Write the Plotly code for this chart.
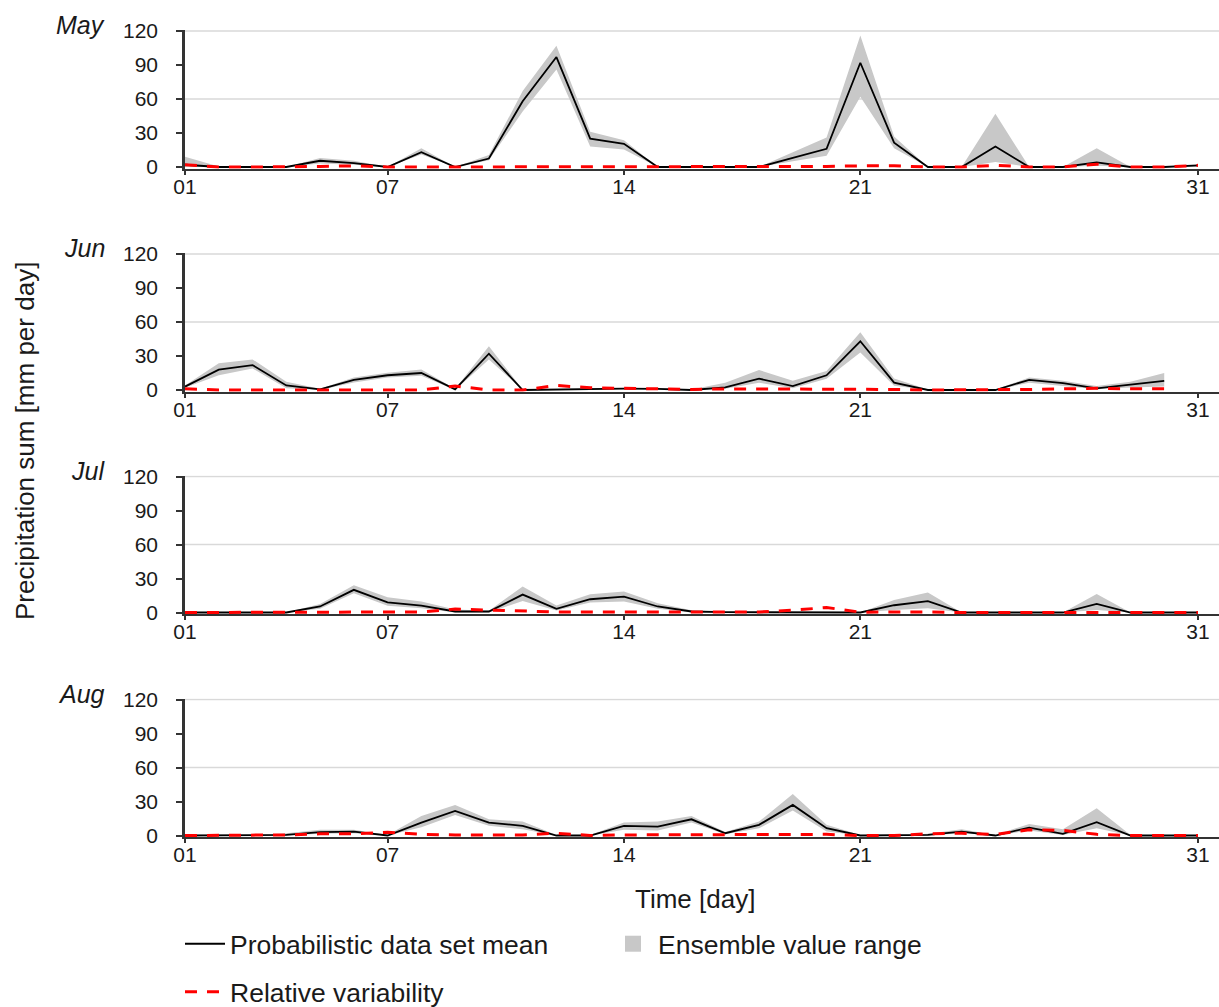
import plotly.graph_objects as go

# ---------------- data (daily precipitation sums, mm per day) ----------------
days = list(range(1, 32))
tick_days = [1, 7, 14, 21, 31]
tick_text = ["01", "07", "14", "21", "31"]
month_names = ["May", "Jun", "Jul", "Aug"]

may_mean = [2, 0, 0, 0, 5.5, 3.5, 0, 13, 0, 7.5, 58, 97, 25, 20.5, 0, 0, 0, 0, 8, 16, 92, 21.5, 0, 0, 18, 0, 0, 4, 0, 0, 1.5]
may_low = [0, 0, 0, 0, 3, 2, 0, 11, 0, 6, 49, 86, 18, 15.5, 0, 0, 0, 0, 5, 10, 62, 16.5, 0, 0, 4.5, 0, 0, 1, 0, 0, 0]
may_high = [9, 0.5, 0, 0, 8, 5.5, 0, 16.5, 0, 10.5, 67, 107, 31, 23.5, 0, 0, 0, 0, 13, 26, 116, 27, 0, 0, 47, 0, 0, 16.5, 0, 0, 2]
may_relvar = [2, 0, 0, 0, 0.5, 1, 0, 0, 0, 0, 0, 0, 0, 0, 0, 0, 0, 0, 0, 0.5, 1, 1, 0, 0, 1.5, 0, 0, 2.5, 0, 0, 1.5]

jun_mean = [3, 18, 22, 4, 0.5, 9, 13, 15, 0.5, 32, 0, 0.5, 1, 1.2, 1, 0, 2.3, 10, 3.5, 13, 43, 6.5, 0, 0, 0, 9, 6, 1.5, 4.5, 8]
jun_low = [2, 13, 19, 1.5, 0, 6.7, 11, 12.6, 0, 27, 0, 0, 0.5, 0.8, 0.5, 0, 1, 6.4, 1.5, 10, 33, 3.8, 0, 0, 0, 6.4, 3.5, 0.6, 2.3, 3]
jun_high = [4, 23.5, 27, 7.3, 1, 11, 15.2, 18, 1, 38.5, 0.5, 1, 1.5, 1.8, 1.5, 0.5, 6.4, 17.6, 8.2, 16.7, 51, 10.2, 0.5, 0, 0.5, 11, 8.2, 3.5, 7.3, 15]
jun_relvar = [1, 0, 0, 0, 0.5, 0, 0, 0, 3.5, 0, 0, 4, 2, 1.5, 1.5, 0.5, 1, 1, 1, 0.5, 0.5, 0.5, 0, 0, 0, 0.5, 1, 1.5, 1, 1]

jul_mean = [0, 0, 0, 0, 5.3, 20, 9, 6, 0.9, 0.9, 15.8, 3.2, 11.7, 14, 5.3, 0.9, 0.3, 0.3, 0.3, 0.3, 0, 6.4, 10, 0, 0, 0, 0, 7.6, 0, 0, 0]
jul_low = [0, 0, 0, 0, 3.2, 17, 6, 3.8, 0, 0, 10.2, 1.8, 8.8, 9.7, 3.2, 0, 0, 0, 0, 0, 0, 2.3, 3.8, 0, 0, 0, 0, 2.3, 0, 0, 0]
jul_high = [0, 0, 0, 0, 7.6, 24, 13.5, 9.7, 2.6, 1.5, 23, 6.1, 16, 18.5, 8.2, 2, 0.5, 0.5, 0.5, 0.5, 0, 11, 17.6, 0, 0, 0, 0, 16.4, 0, 0, 0]
jul_relvar = [0, 0, 0, 0, 0.5, 0.5, 0.5, 0.5, 3, 2, 1.5, 0.5, 0.5, 0.5, 0.5, 0.5, 0.5, 0.5, 2, 4.4, 0.3, 0.5, 0.5, 0, 0, 0, 0, 0.5, 0, 0, 0]

aug_mean = [0, 0, 0, 0.6, 2.9, 3.5, 0, 11.4, 21.7, 11.4, 8.5, 0, 0, 8.5, 7.9, 14.3, 2, 9.4, 27, 6.4, 0, 0, 0.6, 3.5, 0, 7, 1.5, 11.7, 0, 0, 0]
aug_low = [0, 0, 0, 0, 1.5, 2, 0, 7.3, 18, 8.5, 5.6, 0, 0, 5, 4.4, 11.4, 1, 6.4, 22, 3.5, 0, 0, 0, 2, 0, 4.4, 0.5, 6.4, 0, 0, 0]
aug_high = [0, 0, 0, 2, 5, 5, 0.5, 17.3, 27, 14.3, 12.3, 0.5, 0.5, 11.4, 12.3, 17.3, 3, 12.3, 36.6, 9.4, 0.5, 0, 1.5, 5.6, 0.5, 10.2, 5.6, 24, 0.5, 0, 0]
aug_relvar = [0, 0, 0, 0.5, 1.5, 1.5, 2.9, 1, 0.5, 0.5, 0.5, 2, 0, 0.5, 0.5, 0.5, 0.5, 0.5, 0.5, 1, 0, 0, 1.5, 2, 1, 5, 4.5, 1, 0, 0, 0]

means = [may_mean, jun_mean, jul_mean, aug_mean]
lows = [may_low, jun_low, jul_low, aug_low]
highs = [may_high, jun_high, jul_high, aug_high]
relvars = [may_relvar, jun_relvar, jul_relvar, aug_relvar]

# ---------------- styling / layout geometry ----------------
W, H = 1219, 1007
LEFT = 185
PAPER_W = W - LEFT
FONT = "Liberation Sans, Arial, sans-serif"
TXT = "#1a1a1a"
AXIS = "#333333"
BAND = "rgb(200,200,200)"
GRID = "#d9d9d9"

Y_MIN, Y_MAX = -1.5, 120.8
PX_PER_MM = 136 / 120
zero_px = [167, 390, 612.5, 835.5]
X_MAX = 1 + 30 * PAPER_W / (1198 - LEFT)


def px_x(px):
    return (px - LEFT) / PAPER_W


def px_y(py):
    return 1 - py / H


fig = go.Figure()

for i in range(4):
    n = len(means[i])
    xs = days[:n]
    ax = "" if i == 0 else str(i + 1)
    xref, yref = "x" + ax, "y" + ax

    fig.add_trace(go.Scatter(x=xs, y=highs[i], mode="lines", line=dict(width=0, color=BAND),
                             showlegend=False, hoverinfo="skip", xaxis=xref, yaxis=yref))
    fig.add_trace(go.Scatter(x=xs, y=lows[i], mode="lines", line=dict(width=0, color=BAND),
                             fill="tonexty", fillcolor=BAND, showlegend=False,
                             hoverinfo="skip", xaxis=xref, yaxis=yref))
    fig.add_trace(go.Scatter(x=xs, y=means[i], mode="lines", line=dict(color="black", width=1.8),
                             name="Probabilistic data set mean", legend="legend",
                             showlegend=(i == 0), xaxis=xref, yaxis=yref))
    fig.add_trace(go.Scatter(x=xs, y=relvars[i], mode="lines",
                             line=dict(color="#ff0000", width=3, dash="12px,10px"),
                             name="Relative variability", legend="legend3",
                             showlegend=(i == 0), xaxis=xref, yaxis=yref))

    top = zero_px[i] - Y_MAX * PX_PER_MM
    bottom = zero_px[i] - Y_MIN * PX_PER_MM
    fig.update_layout({
        "xaxis" + ax: dict(
            domain=[0, 1], anchor=yref, range=[1, X_MAX],
            tickvals=tick_days, ticktext=tick_text, ticks="outside", ticklen=4,
            tickwidth=2, tickcolor=AXIS, showline=True, linecolor=AXIS, linewidth=2,
            showgrid=False, zeroline=False, layer="below traces", ticklabelstandoff=-6,
            tickfont=dict(size=21, color=TXT, family=FONT),
        ),
        "yaxis" + ax: dict(
            domain=[px_y(bottom), px_y(top)], anchor=xref, range=[Y_MIN, Y_MAX],
            tickvals=[0, 30, 60, 90, 120], ticks="outside", ticklen=6, tickwidth=2,
            tickcolor=AXIS, showline=True, linecolor=AXIS, linewidth=2.5,
            showgrid=False, zeroline=False, layer="below traces", ticklabelstandoff=14,
            tickfont=dict(size=21, color=TXT, family=FONT),
        ),
    })
    for g in (60, 120):
        fig.add_shape(type="line", xref=xref + " domain", yref=yref, x0=0, x1=1, y0=g, y1=g,
                      line=dict(color=GRID, width=1.5), layer="below")

    fig.add_annotation(text=month_names[i], xref="paper", yref="paper",
                       x=px_x(107), y=px_y(zero_px[i] - 142), xanchor="right", yanchor="middle",
                       showarrow=False, font=dict(size=25, color=TXT, family=FONT, style="italic"))

# legend-only swatch for the ensemble band
fig.add_trace(go.Scatter(x=[None], y=[None], mode="markers",
                         marker=dict(symbol="square", size=22, color=BAND),
                         name="Ensemble value range", legend="legend2"))

fig.add_annotation(text="Precipitation sum [mm per day]", xref="paper", yref="paper",
                   x=px_x(25), y=px_y(441), textangle=-90, showarrow=False,
                   xanchor="center", yanchor="middle",
                   font=dict(size=26, color=TXT, family=FONT))
fig.add_annotation(text="Time [day]", xref="paper", yref="paper",
                   x=px_x(695), y=px_y(899), showarrow=False,
                   xanchor="center", yanchor="middle",
                   font=dict(size=26, color=TXT, family=FONT))

legend_font = dict(size=26.5, color=TXT, family=FONT)


def legend_box(px, py):
    return dict(orientation="h", x=px_x(px), y=px_y(py), xanchor="left", yanchor="middle",
                itemwidth=40, font=legend_font, bgcolor="rgba(0,0,0,0)")


fig.update_layout(
    width=W, height=H,
    margin=dict(l=LEFT, r=0, t=0, b=0, autoexpand=False),
    paper_bgcolor="white", plot_bgcolor="white",
    font=dict(family=FONT, color=TXT),
    legend=legend_box(180, 944),
    legend2=legend_box(608, 944),
    legend3=legend_box(180, 992),
)

fig.write_html("out.html")
